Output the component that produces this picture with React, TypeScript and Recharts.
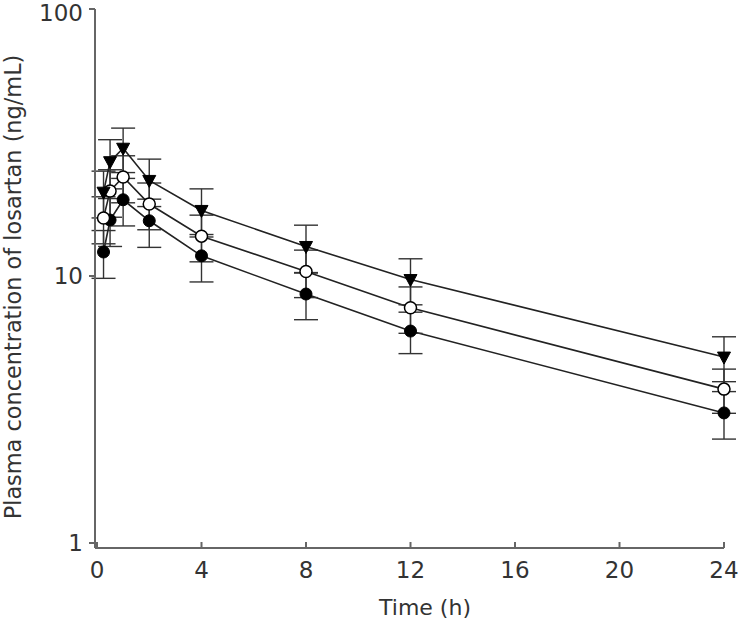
import React from 'react';
import { LineChart, Line, XAxis, YAxis, ErrorBar } from 'recharts';

const times = [0.25, 0.5, 1, 2, 4, 8, 12, 24];
const triMean = [20.6, 26.8, 30.1, 22.8, 17.6, 12.9, 9.7, 4.97];
const triSd = [4.1, 5.6, 5.7, 4.6, 3.6, 2.6, 1.9, 0.95];
const openMean = [16.5, 20.8, 23.5, 18.6, 14.1, 10.4, 7.6, 3.77];
const openSd = [3.3, 4.2, 4.7, 3.7, 2.8, 2.1, 1.5, 0.71];
const filledMean = [12.3, 16.2, 19.3, 16.1, 11.9, 8.56, 6.22, 3.07];
const filledSd = [2.5, 3.3, 3.9, 3.3, 2.4, 1.7, 1.1, 0.62];
const xTicks = [0, 4, 8, 12, 16, 20, 24];
const yTicks = [1, 10, 100];

const data = times.map((t, i) => ({
  time: t,
  tri: triMean[i],
  triSd: triSd[i],
  open: openMean[i],
  openSd: openSd[i],
  filled: filledMean[i],
  filledSd: filledSd[i],
}));

const font = '"DejaVu Sans", Verdana, sans-serif';
const textColor = '#333';
const axisColor = '#666';

const TriangleDot = (props: any) => {
  const { cx, cy } = props;
  if (cx == null || cy == null) return null;
  return <path d={`M${cx - 6.5},${cy - 5} L${cx + 6.5},${cy - 5} L${cx},${cy + 7} Z`} fill="#000" stroke="#000" strokeWidth={1} />;
};

const App: React.FC = () => {
  return <div style={{ position: 'absolute', left: 0, top: 0, background: '#fff' }}>
      <LineChart width={740} height={625} data={data} margin={{
      top: 9,
      right: 16,
      left: 0,
      bottom: 47
    }}>
        <XAxis dataKey="time" type="number" domain={[0, 24]} ticks={xTicks} padding={{ left: 2, right: 0 }}
          height={30} stroke={axisColor} strokeWidth={2} tickSize={-6} tickMargin={20}
          tick={{ fill: textColor, fontSize: 23, fontFamily: font }}
          label={{
            content: () => <text x={425} y={615} textAnchor="middle" fill={textColor} fontSize={22} fontFamily={font}>Time (h)</text>
          }} />
        <YAxis type="number" scale="log" domain={[1, 100]} ticks={yTicks} width={95} allowDataOverflow
          padding={{ top: 0, bottom: 5 }}
          stroke={axisColor} strokeWidth={2} tickSize={6} tickMargin={6}
          tick={{ fill: textColor, fontSize: 23, fontFamily: font }}
          label={{
            content: () => <text transform="translate(21,287) rotate(-90)" textAnchor="middle" fill={textColor} fontSize={22.4} fontFamily={font}>Plasma concentration of losartan (ng/mL)</text>
          }} />
        <Line dataKey="filled" stroke="#222" strokeWidth={1.6} isAnimationActive={false}
          dot={{ r: 6, fill: '#000', stroke: '#000', strokeWidth: 1 }}>
          <ErrorBar dataKey="filledSd" width={12} stroke="#333" strokeWidth={1.4} />
        </Line>
        <Line dataKey="open" stroke="#222" strokeWidth={1.6} isAnimationActive={false}
          dot={{ r: 6, fill: '#fff', stroke: '#000', strokeWidth: 1.5 }}>
          <ErrorBar dataKey="openSd" width={12} stroke="#333" strokeWidth={1.4} />
        </Line>
        <Line dataKey="tri" stroke="#222" strokeWidth={1.6} isAnimationActive={false}
          dot={<TriangleDot />}>
          <ErrorBar dataKey="triSd" width={12} stroke="#333" strokeWidth={1.4} />
        </Line>
      </LineChart>
    </div>;
};

export default App;
